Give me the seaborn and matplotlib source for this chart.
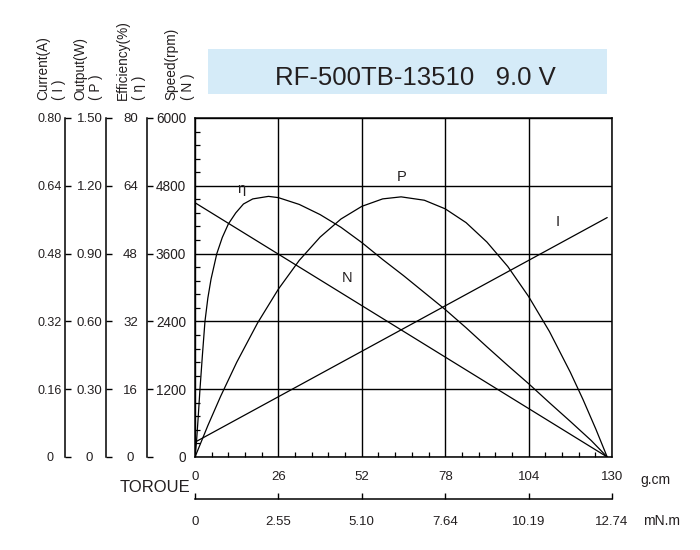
import matplotlib
matplotlib.use("Agg")
import matplotlib.pyplot as plt
import seaborn as sns
from matplotlib.patches import Rectangle
from matplotlib.ticker import MultipleLocator

# ---- data ----
torque_ticks = [0, 26, 52, 78, 104, 130]
torque_labels = ["0", "26", "52", "78", "104", "130"]
torque_mnm_labels = ["0", "2.55", "5.10", "7.64", "10.19", "12.74"]

speed_ticks = [0, 1200, 2400, 3600, 4800, 6000]
speed_labels = ["0", "1200", "2400", "3600", "4800", "6000"]
current_ticks = [0, 0.16, 0.32, 0.48, 0.64, 0.80]
current_labels = ["0", "0.16", "0.32", "0.48", "0.64", "0.80"]
output_ticks = [0, 0.30, 0.60, 0.90, 1.20, 1.50]
output_labels = ["0", "0.30", "0.60", "0.90", "1.20", "1.50"]
eff_ticks = [0, 16, 32, 48, 64, 80]
eff_labels = ["0", "16", "32", "48", "64", "80"]

# speed (N) and current (I) are straight lines
line_torque = [0, 128.5]
speed_rpm = [4500, 0]
current_a = [0.035, 0.565]

# output power (P)
power_torque = [0, 4, 8, 13, 19.5, 26, 32.5, 39, 45.5, 52, 58.5, 64.25,
                71.5, 78, 84.5, 91, 97.5, 104, 110.5, 117, 121, 125, 128.5]
power_w = [0, 0.139, 0.269, 0.419, 0.593, 0.743, 0.870, 0.973, 1.053, 1.109,
           1.142, 1.151, 1.136, 1.098, 1.037, 0.951, 0.843, 0.710, 0.555,
           0.375, 0.253, 0.122, 0]

# efficiency (eta)
eff_torque = [0, 0.5, 1, 1.5, 2.3, 3.1, 4, 5, 6.8, 8.5, 10.4, 12.7, 15.1, 18,
              22.9, 26, 32.5, 39, 45.5, 52, 58.5, 65, 71.5, 78, 84.5, 91,
              97.5, 104, 110.5, 117, 123.5, 128.5]
eff_pct = [0, 4, 9.5, 15.5, 24, 32, 37.5, 42, 48, 51.8, 55, 57.6, 59.7, 60.9,
           61.5, 61.2, 59.6, 57.2, 54.2, 50.6, 46.6, 42.8, 38.8, 34.8, 30.5,
           26.0, 21.6, 17.3, 12.8, 8.4, 3.9, 0]

curve_labels = ["η", "P", "N", "I"]
curve_label_pos = [(14.4, 4740), (64.3, 4960), (47.4, 3170), (113, 4160)]

sns.set_theme(style="white")
plt.rcParams["font.family"] = ["Liberation Sans", "DejaVu Sans"]
txt = "#231f20"
lw_curve = 0.9

fig = plt.figure(figsize=(7, 5.5), dpi=100)
ax = fig.add_axes([0.2786, 0.1691, 0.5957, 0.6164])

sns.lineplot(x=line_torque, y=speed_rpm, ax=ax, color="black", lw=lw_curve)
ax.set_xlim(0, 130)
ax.set_ylim(0, 6000)
ax.set_xticks(torque_ticks, torque_labels)
ax.set_yticks(speed_ticks, speed_labels)
ax.xaxis.set_minor_locator(MultipleLocator(5.2))
ax.yaxis.set_minor_locator(MultipleLocator(240))
ax.grid(True, which="major", color="black", lw=1.0)
ax.tick_params(axis="x", which="major", direction="in", length=0, pad=10,
               labelsize=9.5, labelcolor=txt)
ax.tick_params(axis="y", which="major", direction="in", length=0, pad=6.5,
               labelsize=9.8, labelcolor=txt)
ax.tick_params(which="minor", direction="in", length=3.5, width=0.9,
               color="black", bottom=True, left=True)
for s in ax.spines.values():
    s.set_color("black")
    s.set_linewidth(1.1)

# extra y scales on the left
extra = [
    (current_ticks, current_labels, 0.8, 93.5, 11, 9.0),
    (output_ticks, output_labels, 1.5, 64, 12, 9.5),
    (eff_ticks, eff_labels, 80, 34.5, 12, 9.5),
]
twins = []
for ticks, labels, top, offset, pad, fs in extra:
    tw = ax.twinx()
    tw.set_ylim(0, top)
    tw.spines[["right", "top", "bottom"]].set_visible(False)
    tw.spines["left"].set_visible(True)
    tw.spines["left"].set_position(("outward", offset))
    tw.spines["left"].set_color("black")
    tw.spines["left"].set_linewidth(1.1)
    tw.yaxis.set_ticks_position("left")
    tw.set_yticks(ticks, labels, ha="center")
    tw.tick_params(axis="y", direction="in", length=4, width=1.0,
                   color="black", pad=pad, labelsize=fs, labelcolor=txt)
    tw.grid(False)
    twins.append(tw)
ax_i, ax_p, ax_e = twins

sns.lineplot(x=line_torque, y=current_a, ax=ax_i, color="black", lw=lw_curve)
sns.lineplot(x=power_torque, y=power_w, ax=ax_p, color="black", lw=lw_curve)
sns.lineplot(x=eff_torque, y=eff_pct, ax=ax_e, color="black", lw=lw_curve)

for lab, (tx, ty) in zip(curve_labels, curve_label_pos):
    ax_e.text(tx, ty / 75, lab, fontsize=10.5, color=txt,
              ha="center", va="center", zorder=5)

# second torque scale (mN.m)
sec = ax.secondary_xaxis(-0.124)
sec.set_xticks(torque_ticks, torque_mnm_labels)
sec.tick_params(direction="in", length=4.5, width=1.0, color="black",
                pad=12, labelsize=9.5, labelcolor=txt)
sec.spines["bottom"].set_linewidth(1.1)
sec.spines["bottom"].set_color("black")

# axis titles
axis_titles = ["Current(A)\n( I )", "Output(W)\n( P )",
               "Efficiency(%)\n( η )", "Speed(rpm)\n( N )"]
title_x = [51, 88, 131, 180]
for t, xp in zip(axis_titles, title_x):
    fig.text(xp / 700, 1 - 100 / 550, t, rotation=90, ha="center",
             va="bottom", multialignment="left", fontsize=9.8, color=txt,
             linespacing=1.2)

fig.text(120 / 700, 1 - 488 / 550, "TOROUE", ha="left", va="center",
         fontsize=12, color=txt)
fig.text(640 / 700, 1 - 480 / 550, "g.cm", ha="left", va="center",
         fontsize=10, color=txt)
fig.text(643 / 700, 1 - 521 / 550, "mN.m", ha="left", va="center",
         fontsize=10, color=txt)

# title banner
fig.patches.append(Rectangle((208 / 700, 1 - 94 / 550), 399 / 700, 45 / 550,
                             transform=fig.transFigure, facecolor="#d5ebf8",
                             edgecolor="none", zorder=0))
fig.text(415 / 700, 1 - 85 / 550, "RF-500TB-13510   9.0 V", ha="center",
         va="baseline", fontsize=18.5, color=txt)

fig.savefig("out.png", dpi=100)
